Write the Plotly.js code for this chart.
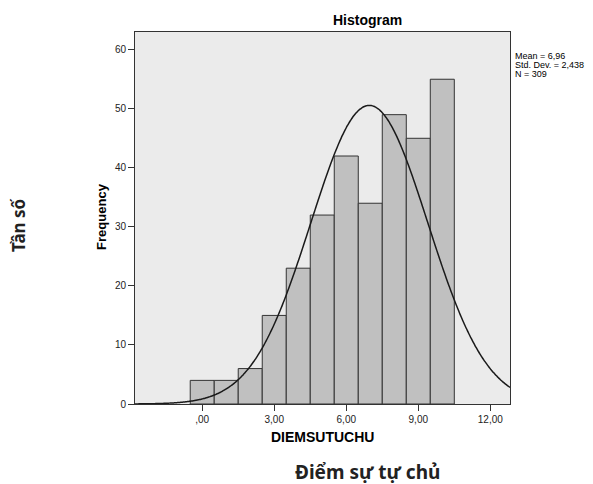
<!DOCTYPE html>
<html>
<head>
<meta charset="utf-8">
<script src="https://cdn.plot.ly/plotly-3.0.1.min.js"></script>
<style>
html,body{margin:0;padding:0;background:#fff;}
#chart{width:593px;height:484px;}
</style>
</head>
<body>
<div id="chart"></div>
<script>
// Histogram bins (centre of each bin, width 1) and frequencies
var binCenters = [0, 1, 2, 3, 4, 5, 6, 7, 8, 9, 10];
var frequencies = [4, 4, 6, 15, 23, 32, 42, 34, 49, 45, 55];
var binWidth = 1;

// Statistics shown in the chart (SPSS normal-curve parameters)
var meanVal = 6.96;
var sdVal = 2.438;
var nVal = 309;
var statLabels = ["Mean = 6,96", "Std. Dev. = 2,438", "N = 309"];

// Axis ticks
var xTickVals = [0, 3, 6, 9, 12];
var xTickText = [",00", "3,00", "6,00", "9,00", "12,00"];
var yTickVals = [0, 10, 20, 30, 40, 50, 60];

var xRange = [-2.8, 12.82];
var yRange = [0, 63];

// Fitted normal curve from the stated mean, SD and N
var curveX = [], curveY = [];
var steps = 300;
for (var i = 0; i <= steps; i++) {
  var xv = xRange[0] + (xRange[1] - xRange[0]) * i / steps;
  var z = (xv - meanVal) / sdVal;
  curveX.push(xv);
  curveY.push(nVal * binWidth / (sdVal * Math.sqrt(2 * Math.PI)) * Math.exp(-0.5 * z * z));
}

var bars = {
  type: 'bar',
  x: binCenters,
  y: frequencies,
  width: binCenters.map(function(){return binWidth;}),
  marker: {color: '#c0c0c0', line: {color: '#333333', width: 1}},
  hoverinfo: 'x+y'
};
var curve = {
  type: 'scatter',
  mode: 'lines',
  x: curveX,
  y: curveY,
  line: {color: '#1a1a1a', width: 1.5, shape: 'spline'},
  hoverinfo: 'skip'
};

var font = 'Liberation Sans, Arial, sans-serif';
var annotations = [
  {text: '<b>Histogram</b>', xref: 'paper', yref: 'paper', x: 0.6187, y: 1.031, xanchor: 'center', yanchor: 'middle', showarrow: false, font: {family: font, size: 14, color: '#000'}},
  {text: '<b>Frequency</b>', xref: 'paper', yref: 'paper', x: -0.088, y: 0.503, xanchor: 'center', yanchor: 'middle', textangle: -90, showarrow: false, font: {family: font, size: 13, color: '#000'}},
  {text: '<b>DIEMSUTUCHU</b>', xref: 'paper', yref: 'paper', x: 0.5013, y: -0.0887, xanchor: 'center', yanchor: 'middle', showarrow: false, font: {family: font, size: 14, color: '#000'}},
  {text: '<b>Tần số</b>', xref: 'paper', yref: 'paper', x: -0.312, y: 0.481, xanchor: 'center', yanchor: 'middle', textangle: -90, showarrow: false, font: {family: 'Noto Sans, sans-serif', size: 17, color: '#222'}},
  {text: '<b>Điểm sự tự chủ</b>', xref: 'paper', yref: 'paper', x: 0.62, y: -0.183, xanchor: 'center', yanchor: 'middle', showarrow: false, font: {family: 'Noto Sans, sans-serif', size: 19, color: '#222'}}
];
var statY = [55.7, 65, 74.3];
statLabels.forEach(function(t, k){
  annotations.push({text: t, xref: 'paper', yref: 'paper', x: 1.008, y: (404 - statY[k]) / 372, xanchor: 'left', yanchor: 'middle', showarrow: false, font: {family: font, size: 9, color: '#000'}});
});

var layout = {
  width: 593, height: 484,
  margin: {l: 135, r: 83, t: 32, b: 80, pad: 0},
  paper_bgcolor: '#ffffff',
  plot_bgcolor: '#ebebeb',
  showlegend: false,
  bargap: 0,
  xaxis: {
    range: xRange, tickvals: xTickVals, ticktext: xTickText,
    ticks: 'outside', ticklen: 6, tickcolor: '#333', tickwidth: 1,
    showline: true, linecolor: '#333', linewidth: 1, mirror: true,
    showgrid: false, zeroline: false,
    tickfont: {family: font, size: 10, color: '#222'}
  },
  yaxis: {
    range: yRange, tickvals: yTickVals,
    ticks: 'outside', ticklen: 6, tickcolor: '#333', tickwidth: 1,
    showline: true, linecolor: '#333', linewidth: 1, mirror: true,
    showgrid: false, zeroline: false,
    tickfont: {family: font, size: 10, color: '#222'}
  },
  annotations: annotations
};

Plotly.newPlot('chart', [bars, curve], layout, {displayModeBar: false, staticPlot: true});
</script>
</body>
</html>
